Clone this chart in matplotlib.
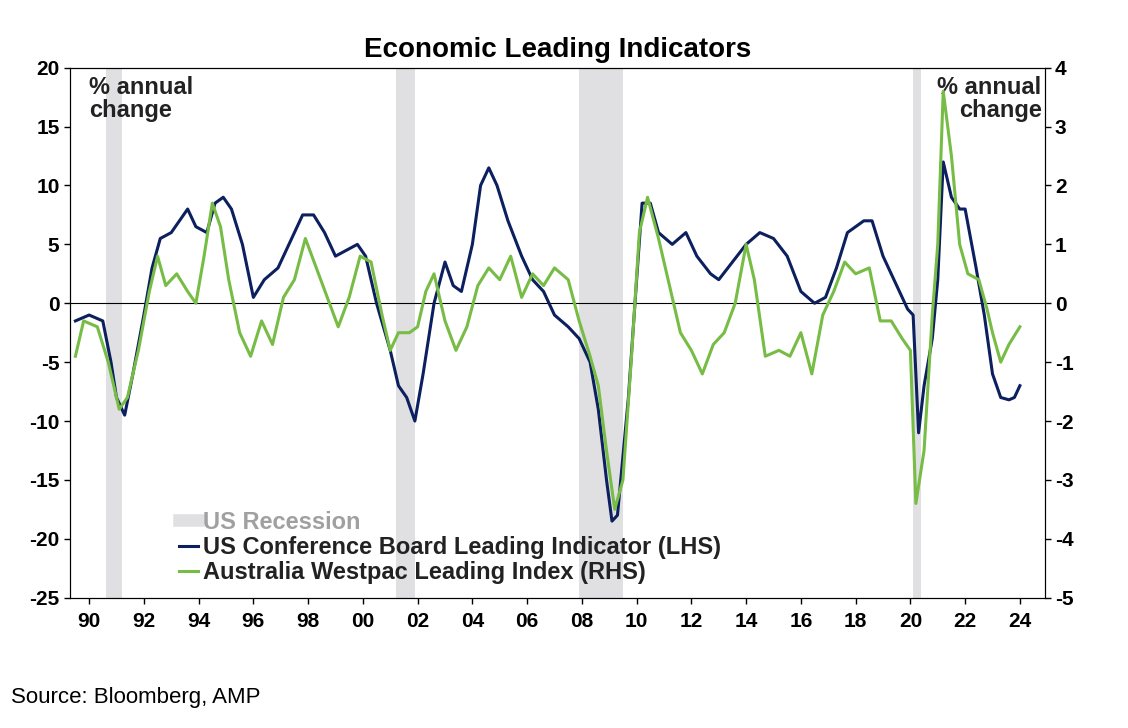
import matplotlib
matplotlib.use("Agg")
import matplotlib.pyplot as plt
from matplotlib.lines import Line2D

plt.rcParams['font.family'] = ['Liberation Sans', 'DejaVu Sans']
plt.rcParams['axes.unicode_minus'] = False

recessions = [(1990.6, 1991.2), (2001.2, 2001.9), (2007.9, 2009.5), (2020.1, 2020.4)]

us_t = [1989.5, 1990.0, 1990.5, 1990.8, 1991.0, 1991.3, 1991.6, 1992.0, 1992.3, 1992.6, 1993.0, 1993.3,
        1993.6, 1993.9, 1994.3, 1994.6, 1994.9, 1995.2, 1995.6, 1996.0, 1996.4, 1996.9, 1997.3, 1997.8,
        1998.2, 1998.6, 1999.0, 1999.4, 1999.8, 2000.1, 2000.5, 2001.0, 2001.3, 2001.6, 2001.9, 2002.2,
        2002.6, 2003.0, 2003.3, 2003.6, 2004.0, 2004.3, 2004.6, 2004.9, 2005.3, 2005.8, 2006.2, 2006.6,
        2007.0, 2007.5, 2007.9, 2008.3, 2008.6, 2008.9, 2009.1, 2009.3, 2009.7, 2010.0, 2010.2, 2010.5,
        2010.8, 2011.3, 2011.8, 2012.2, 2012.7, 2013.0, 2013.5, 2014.0, 2014.5, 2015.0, 2015.5, 2016.0,
        2016.5, 2016.9, 2017.3, 2017.7, 2018.3, 2018.6, 2019.0, 2019.5, 2019.9, 2020.1, 2020.3, 2020.5,
        2020.8, 2021.0, 2021.2, 2021.5, 2021.8, 2022.0, 2022.4, 2022.7, 2023.0, 2023.3, 2023.6, 2023.8, 2024.0]
us_v = [-1.5, -1, -1.5, -5, -8, -9.5, -6, -1, 3, 5.5, 6, 7,
        8, 6.5, 6, 8.5, 9, 8, 5, 0.5, 2, 3, 5, 7.5,
        7.5, 6, 4, 4.5, 5, 4, 0, -4, -7, -8, -10, -6,
        0, 3.5, 1.5, 1, 5, 10, 11.5, 10, 7, 4, 2, 1,
        -1, -2, -3, -5, -9, -15, -18.5, -18, -8, 2, 8.5, 8.5,
        6, 5, 6, 4, 2.5, 2, 3.5, 5, 6, 5.5, 4, 1,
        0, 0.5, 3, 6, 7, 7, 4, 1.5, -0.5, -1, -11, -7,
        -3, 2, 12, 9, 8, 8, 3, -1, -6, -8, -8.2, -8, -7]

au_t = [1989.5, 1989.8, 1990.3, 1990.7, 1991.1, 1991.4, 1991.8, 1992.2, 1992.5, 1992.8, 1993.2, 1993.6,
        1993.9, 1994.2, 1994.5, 1994.8, 1995.1, 1995.5, 1995.9, 1996.3, 1996.7, 1997.1, 1997.5, 1997.9,
        1998.3, 1998.7, 1999.1, 1999.5, 1999.9, 2000.3, 2000.7, 2001.0, 2001.3, 2001.7, 2002.0, 2002.3,
        2002.6, 2003.0, 2003.4, 2003.8, 2004.2, 2004.6, 2005.0, 2005.4, 2005.8, 2006.2, 2006.6, 2007.0,
        2007.5, 2007.9, 2008.3, 2008.6, 2008.9, 2009.2, 2009.5, 2009.8, 2010.1, 2010.4, 2010.8, 2011.2,
        2011.6, 2012.0, 2012.4, 2012.8, 2013.2, 2013.6, 2014.0, 2014.3, 2014.7, 2015.2, 2015.6, 2016.0,
        2016.4, 2016.8, 2017.2, 2017.6, 2018.0, 2018.5, 2018.9, 2019.3, 2019.7, 2020.0, 2020.2, 2020.5,
        2020.8, 2021.0, 2021.2, 2021.5, 2021.8, 2022.1, 2022.5, 2022.8, 2023.0, 2023.3, 2023.6, 2024.0]
au_v = [-0.9, -0.3, -0.4, -1, -1.8, -1.6, -0.8, 0.2, 0.8, 0.3, 0.5, 0.2,
        0, 0.8, 1.7, 1.3, 0.4, -0.5, -0.9, -0.3, -0.7, 0.1, 0.4, 1.1,
        0.6, 0.1, -0.4, 0.1, 0.8, 0.7, -0.2, -0.8, -0.5, -0.5, -0.4, 0.2,
        0.5, -0.3, -0.8, -0.4, 0.3, 0.6, 0.4, 0.8, 0.1, 0.5, 0.3, 0.6,
        0.4, -0.3, -0.9, -1.4, -2.5, -3.5, -3, -1, 1.2, 1.8, 1.1, 0.3,
        -0.5, -0.8, -1.2, -0.7, -0.5, 0, 1, 0.4, -0.9, -0.8, -0.9, -0.5,
        -1.2, -0.2, 0.2, 0.7, 0.5, 0.6, -0.3, -0.3, -0.6, -0.8, -3.4, -2.5,
        -0.2, 1, 3.6, 2.5, 1, 0.5, 0.4, -0.1, -0.5, -1, -0.7, -0.4]

year_ticks = list(range(1990, 2025, 2))
year_labels = [f"{y % 100:02d}" for y in year_ticks]

navy = '#0c1f5e'
green = '#77bc45'
grey = '#e0e0e2'

fig = plt.figure(figsize=(11.28, 7.28), dpi=100)
ax = fig.add_axes([0.062, 0.179, 0.864, 0.728])
ax2 = ax.twinx()

for a, b in recessions:
    ax.axvspan(a, b, color=grey, lw=0, zorder=0)
ax.axhline(0, color='black', lw=0.8, zorder=1)
ax.plot(us_t, us_v, color=navy, lw=2.2, zorder=3)
ax2.plot(au_t, au_v, color=green, lw=2.2, zorder=2)

ax.set_xlim(1989.3, 2024.9)
ax.set_ylim(-25, 20)
ax2.set_ylim(-5, 4)
ax.set_yticks(range(-25, 21, 5))
ax2.set_yticks(range(-5, 5))
ax.set_xticks(year_ticks)
ax.set_xticklabels(year_labels)
for a in (ax, ax2):
    a.tick_params(labelsize=15, width=1, length=4)
    for lbl in a.get_xticklabels() + a.get_yticklabels():
        lbl.set_fontweight('bold')
ax.tick_params(axis='x', direction='out', pad=6)

ax.set_title('Economic Leading Indicators', fontsize=20, fontweight='bold', pad=8)
ax.text(0.02, 0.985, '% annual\nchange', transform=ax.transAxes, va='top', ha='left',
        fontsize=17, fontweight='bold', color='#222222', linespacing=1.0)
ax.text(0.997, 0.985, '% annual\nchange', transform=ax.transAxes, va='top', ha='right',
        fontsize=17, fontweight='bold', color='#222222', linespacing=1.0)

handles = [Line2D([], [], color=grey, lw=9),
           Line2D([], [], color=navy, lw=2.2),
           Line2D([], [], color=green, lw=2.2)]
labels = ['US Recession', 'US Conference Board Leading Indicator (LHS)',
          'Australia Westpac Leading Index (RHS)']
leg = ax.legend(handles, labels, loc='lower left', bbox_to_anchor=(0.09, -0.015), frameon=False,
                prop={'size': 17, 'weight': 'bold'}, handlelength=0.8, handletextpad=0.2,
                labelspacing=0.1)
leg.get_texts()[0].set_color('#a0a0a0')
for t in leg.get_texts()[1:]:
    t.set_color('#222222')

fig.text(0.01, 0.035, 'Source: Bloomberg, AMP', fontsize=16)
fig.savefig('out.png', dpi=100)
